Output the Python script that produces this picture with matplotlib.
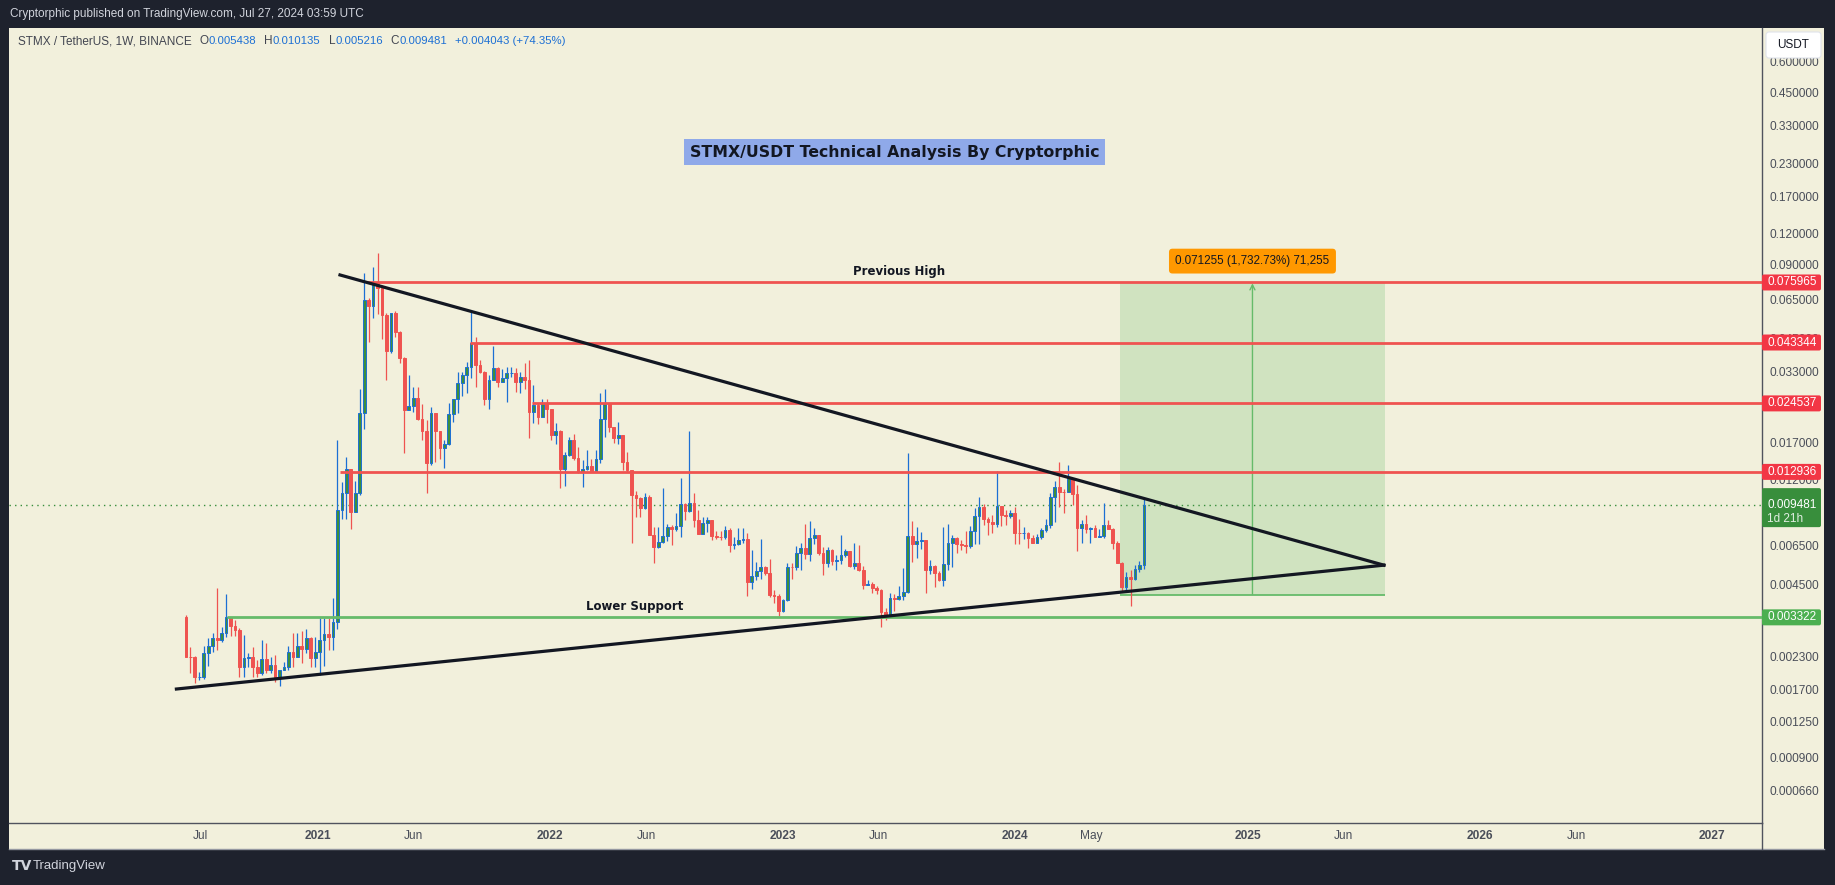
import numpy as np
import pandas as pd
import matplotlib
matplotlib.use('Agg')
import matplotlib.pyplot as plt
import matplotlib.dates as mdates
from matplotlib.patches import Rectangle, FancyBboxPatch
from matplotlib.lines import Line2D
from matplotlib.transforms import IdentityTransform

plt.rcParams['font.family'] = ['Liberation Sans', 'DejaVu Sans']

# ---- data (weekly STMX/USDT) ----
first_week = '2020-06-08'
first_open = 0.00334
closes = [
    0.00230, 0.00229, 0.00190, 0.00191, 0.00237, 0.00254, 0.00273, 0.00269, 0.00288, 0.00333,
    0.00306, 0.00295, 0.00209, 0.00228, 0.00229, 0.00209, 0.00198, 0.00225, 0.00203, 0.00212,
    0.00190, 0.00204, 0.00208, 0.00240, 0.00230, 0.00254, 0.00247, 0.00273, 0.00228, 0.00241,
    0.00269, 0.00284, 0.00276, 0.00319, 0.00906, 0.01066, 0.01326, 0.00892, 0.01066, 0.02252,
    0.0645, 0.0610, 0.0759, 0.0720, 0.0561, 0.0401, 0.0570, 0.0479, 0.0374, 0.0231,
    0.0240, 0.0257, 0.0212, 0.0190, 0.0141, 0.0225, 0.0190, 0.0161, 0.01676, 0.0223,
    0.0255, 0.0297, 0.0320, 0.0344, 0.0433, 0.0351, 0.0330, 0.0255, 0.0305, 0.0342,
    0.0300, 0.0312, 0.0325, 0.0326, 0.0300, 0.0315, 0.0305, 0.0227, 0.0241, 0.0217,
    0.0247, 0.0232, 0.0182, 0.0189, 0.0133, 0.0152, 0.0174, 0.0147, 0.01296, 0.0133,
    0.01367, 0.01308, 0.01458, 0.0212, 0.0247, 0.0196, 0.0178, 0.0182, 0.01423, 0.01317,
    0.01043, 0.01011, 0.00920, 0.01021, 0.00718, 0.00640, 0.00671, 0.00713, 0.00775, 0.00757,
    0.00782, 0.00958, 0.00898, 0.00970, 0.00825, 0.00724, 0.00800, 0.00825, 0.00711, 0.00706,
    0.00702, 0.00752, 0.00654, 0.00660, 0.00685, 0.00690, 0.00463, 0.00489, 0.00512, 0.00530,
    0.00502, 0.00409, 0.00406, 0.00354, 0.00391, 0.00533, 0.00530, 0.00605, 0.00634, 0.00601,
    0.00696, 0.00718, 0.00608, 0.00554, 0.00624, 0.00564, 0.00568, 0.00596, 0.00618, 0.00537,
    0.00554, 0.00517, 0.00450, 0.00454, 0.00438, 0.00429, 0.00350, 0.00340, 0.00397, 0.00395,
    0.00406, 0.00422, 0.00711, 0.00660, 0.00679, 0.00682, 0.00517, 0.00537, 0.00504, 0.00471,
    0.00547, 0.00664, 0.00696, 0.00660, 0.00654, 0.00648, 0.00745, 0.00857, 0.00934, 0.00833,
    0.00812, 0.00795, 0.00943, 0.00865, 0.00860, 0.00879, 0.00733, 0.00730, 0.00733, 0.00696,
    0.00668, 0.00702, 0.00752, 0.00787, 0.01021, 0.01121, 0.01076, 0.01070, 0.01218, 0.01053,
    0.00763, 0.00795, 0.00757, 0.00763, 0.00702, 0.00711, 0.00787, 0.00757, 0.00668, 0.00551,
    0.00442, 0.00485, 0.00475, 0.00521, 0.005438, 0.009481,
]
highs = [
    0.00340, 0.00252, 0.00232, 0.00200, 0.00254, 0.00273, 0.00286, 0.00436, 0.00304, 0.00413,
    0.00333, 0.00324, 0.00300, 0.00282, 0.00239, 0.00251, 0.00223, 0.00269, 0.00261, 0.00230,
    0.00234, 0.00204, 0.00219, 0.00254, 0.00288, 0.00288, 0.00293, 0.00297, 0.00277, 0.00277,
    0.00329, 0.00329, 0.00329, 0.00397, 0.0174, 0.01181, 0.01485, 0.01333, 0.01192, 0.0280,
    0.0833, 0.0655, 0.0876, 0.0999, 0.0743, 0.0570, 0.0573, 0.0584, 0.0484, 0.0377,
    0.0320, 0.0285, 0.0286, 0.0244, 0.0210, 0.0238, 0.0225, 0.0190, 0.0174, 0.02467,
    0.0255, 0.0330, 0.0330, 0.0362, 0.0584, 0.0457, 0.0368, 0.0332, 0.0320, 0.0420,
    0.0346, 0.0337, 0.0346, 0.0346, 0.0340, 0.0330, 0.0359, 0.0368, 0.0291, 0.0247,
    0.0255, 0.0255, 0.0232, 0.0204, 0.0191, 0.01565, 0.0179, 0.0184, 0.01634, 0.01446,
    0.0158, 0.01458, 0.0158, 0.0270, 0.0280, 0.0247, 0.0196, 0.0207, 0.0182, 0.01565,
    0.01317, 0.01086, 0.01026, 0.01066, 0.01043, 0.00775, 0.00775, 0.0111, 0.00795, 0.00787,
    0.00879, 0.01218, 0.00965, 0.0190, 0.0106, 0.00906, 0.00846, 0.00846, 0.00825, 0.00747,
    0.00747, 0.00780, 0.00763, 0.00706, 0.00763, 0.00763, 0.00729, 0.00624, 0.00556, 0.00691,
    0.00537, 0.00572, 0.00429, 0.00413, 0.00395, 0.00551, 0.00554, 0.00648, 0.00664, 0.00795,
    0.00817, 0.00763, 0.00718, 0.00643, 0.00643, 0.00628, 0.00596, 0.00718, 0.00628, 0.00618,
    0.00664, 0.00654, 0.00537, 0.00471, 0.00461, 0.00445, 0.00432, 0.00362, 0.00416, 0.00413,
    0.00445, 0.00528, 0.0155, 0.00817, 0.00775, 0.00740, 0.00685, 0.00568, 0.00542, 0.00512,
    0.00775, 0.00795, 0.00718, 0.00706, 0.00685, 0.00745, 0.00780, 0.00925, 0.01026, 0.00958,
    0.00846, 0.00865, 0.01305, 0.00941, 0.00906, 0.00906, 0.00929, 0.00831, 0.00775, 0.00737,
    0.00718, 0.00724, 0.00767, 0.00831, 0.01066, 0.01189, 0.01423, 0.01100, 0.01380, 0.01218,
    0.01145, 0.00825, 0.00865, 0.00775, 0.00787, 0.00757, 0.00970, 0.00825, 0.00767, 0.00681,
    0.00559, 0.00508, 0.00517, 0.00542, 0.00563, 0.010135,
]
lows = [
    0.00230, 0.00197, 0.00180, 0.00185, 0.00186, 0.00211, 0.00241, 0.00245, 0.00265, 0.00277,
    0.00279, 0.00279, 0.00190, 0.00190, 0.00209, 0.00191, 0.00190, 0.00194, 0.00197, 0.00198,
    0.00182, 0.00175, 0.00203, 0.00203, 0.00208, 0.00230, 0.00217, 0.00239, 0.00208, 0.00209,
    0.00194, 0.00211, 0.00245, 0.00245, 0.00297, 0.00831, 0.00831, 0.00757, 0.00900, 0.01043,
    0.01926, 0.0437, 0.0544, 0.0566, 0.0450, 0.0305, 0.0394, 0.0455, 0.0357, 0.0155,
    0.0231, 0.0227, 0.0210, 0.0175, 0.0106, 0.0138, 0.01423, 0.01458, 0.01345, 0.0166,
    0.0207, 0.0224, 0.0263, 0.0270, 0.0310, 0.0286, 0.0325, 0.0241, 0.0232, 0.0305,
    0.0286, 0.0300, 0.0249, 0.0315, 0.0274, 0.0271, 0.0280, 0.0178, 0.0205, 0.0202,
    0.0217, 0.0205, 0.0175, 0.0168, 0.0111, 0.01135, 0.0150, 0.01446, 0.01277, 0.0112,
    0.01317, 0.01296, 0.01308, 0.0141, 0.0179, 0.0188, 0.0170, 0.0168, 0.01317, 0.01296,
    0.00664, 0.00851, 0.00846, 0.00912, 0.00718, 0.00551, 0.00634, 0.00664, 0.00681, 0.00654,
    0.00747, 0.00706, 0.00825, 0.00892, 0.00775, 0.00724, 0.00724, 0.00740, 0.00685, 0.00690,
    0.00685, 0.00690, 0.00614, 0.00628, 0.00654, 0.00668, 0.00407, 0.00433, 0.00471, 0.00474,
    0.00493, 0.00401, 0.00379, 0.00337, 0.00350, 0.00388, 0.00475, 0.00517, 0.00517, 0.00574,
    0.00564, 0.00658, 0.00596, 0.00493, 0.00533, 0.00542, 0.00517, 0.00547, 0.00586, 0.00533,
    0.00521, 0.00513, 0.00433, 0.00450, 0.00416, 0.00413, 0.00303, 0.00324, 0.00338, 0.00354,
    0.00391, 0.00391, 0.00418, 0.00559, 0.00580, 0.00630, 0.00418, 0.00498, 0.00442, 0.00468,
    0.00447, 0.00517, 0.00533, 0.00605, 0.00624, 0.00605, 0.00634, 0.00660, 0.00660, 0.00787,
    0.00718, 0.00733, 0.00775, 0.00780, 0.00787, 0.00838, 0.00660, 0.00660, 0.00691, 0.00637,
    0.00666, 0.00664, 0.00691, 0.00740, 0.00767, 0.00812, 0.00934, 0.00879, 0.01076, 0.00950,
    0.00620, 0.00664, 0.00733, 0.00664, 0.00702, 0.00702, 0.00700, 0.00757, 0.00628, 0.00551,
    0.00422, 0.00425, 0.00371, 0.00471, 0.00508, 0.005216,
]

red_levels = [0.075965, 0.043344, 0.024537, 0.012936]
red_level_starts = ['2021-03-20', '2021-08-28', '2021-12-04', '2021-02-05']
support_level = 0.003322
support_start = '2020-08-12'
last_price = 0.009481

upper_line_dates = ['2021-02-05', '2025-08-03']
upper_line_prices = [0.0815, 0.00541]
lower_line_dates = ['2020-05-24', '2025-08-03']
lower_line_prices = [0.00170, 0.00541]

pos_start, pos_end = '2024-06-15', '2025-08-04'
pos_entry, pos_target = 0.004112, 0.075367
pos_label = '0.071255 (1,732.73%) 71,255'

ytick_vals = [0.6, 0.45, 0.33, 0.23, 0.17, 0.12, 0.09, 0.065, 0.045, 0.033, 0.025,
              0.017, 0.012, 0.0065, 0.0045, 0.0023, 0.0017, 0.00125, 0.0009, 0.00066]
xtick_dates = ['2020-07-01', '2021-01-01', '2021-06-01', '2022-01-01', '2022-06-01',
               '2023-01-01', '2023-06-01', '2024-01-01', '2024-05-01', '2025-01-01',
               '2025-06-01', '2026-01-01', '2026-06-01', '2027-01-01']
xtick_labels = ['Jul', '2021', 'Jun', '2022', 'Jun', '2023', 'Jun', '2024', 'May',
                '2025', 'Jun', '2026', 'Jun', '2027']

title = 'STMX/USDT Technical Analysis By Cryptorphic'
legend_name = 'STMX / TetherUS, 1W, BINANCE'
legend_fields = [('O', '0.005438'), ('H', '0.010135'), ('L', '0.005216'), ('C', '0.009481')]
legend_change = '+0.004043 (+74.35%)'

# ---- styling ----
W, H = 1835, 885
DARK = '#1e222d'
BG = '#f2f0dc'
BLUE = '#1c6fd4'
GREEN = '#3d8f3d'
RED = '#ef5350'
TAGRED = '#f23645'
AXCOL = '#50535e'
TXT = '#131722'
GREY = '#434651'

fig = plt.figure(figsize=(W / 100, H / 100), dpi=100, facecolor=DARK)
fig.patches.append(Rectangle((9 / W, (H - 849) / H), (1824 - 9) / W, (849 - 28) / H,
                             transform=fig.transFigure, fc=BG, ec='none', zorder=-5))
ax = fig.add_axes([9 / W, (H - 823) / H, (1762 - 9) / W, (823 - 28) / H])
ax.set_facecolor(BG)
ax.set_yscale('log')
ax.set_ylim(0.000486, 0.8195)
ax.set_xlim(mdates.datestr2num('2019-09-04'), mdates.datestr2num('2027-03-20'))
xmax = ax.get_xlim()[1]
for s in ['top', 'left']:
    ax.spines[s].set_visible(False)
for s in ['bottom', 'right']:
    ax.spines[s].set_color(AXCOL)
    ax.spines[s].set_linewidth(1)

# candles
dates = pd.date_range(first_week, periods=len(closes), freq='7D')
x = mdates.date2num(dates)
c = np.array(closes)
o = np.r_[first_open, c[:-1]]
h = np.maximum(np.array(highs), np.maximum(o, c))
l = np.minimum(np.array(lows), np.minimum(o, c))
up = c >= o
dn = ~up
bot = np.minimum(o, c)
ht = np.abs(c - o)
ax.vlines(x[up], l[up], h[up], color=BLUE, lw=0.9, zorder=3)
ax.vlines(x[dn], l[dn], h[dn], color=RED, lw=0.9, zorder=3)
ax.bar(x[up], ht[up], width=4.3, bottom=bot[up], color=GREEN, edgecolor=BLUE, lw=0.7, zorder=4)
ax.bar(x[dn], ht[dn], width=4.3, bottom=bot[dn], color=RED, edgecolor=RED, lw=0.7, zorder=4)

# long position box
x0, x1 = mdates.datestr2num(pos_start), mdates.datestr2num(pos_end)
ax.add_patch(Rectangle((x0, pos_entry), x1 - x0, pos_target - pos_entry,
                       fc='#4caf50', alpha=0.2, ec='none', zorder=1.5))
ax.hlines(pos_entry, x0, x1, color='#66bb6a', lw=1.3, zorder=2)
xm = (x0 + x1) / 2
ax.annotate('', xy=(xm, pos_target), xytext=(xm, pos_entry),
            arrowprops=dict(arrowstyle='->', color='#66bb6a', lw=1, shrinkA=0, shrinkB=0,
                            mutation_scale=9), zorder=2)
ax.annotate(pos_label, xy=(xm, pos_target), xytext=(0, 16), textcoords='offset points',
            ha='center', va='center', fontsize=8.4, color=TXT, zorder=8,
            bbox=dict(boxstyle='round,pad=0.55,rounding_size=0.3', fc='#ff9800', ec='none'))

# levels
ax.axhline(last_price, color='#388e3c', lw=1, ls=(0, (1, 3)), zorder=2)
for lv, st in zip(red_levels, red_level_starts):
    ax.hlines(lv, mdates.datestr2num(st), xmax, color=RED, lw=2, zorder=5)
ax.hlines(support_level, mdates.datestr2num(support_start), xmax, color='#66bb6a', lw=2, zorder=5)

# trendlines
ax.plot(mdates.datestr2num(upper_line_dates), upper_line_prices, color=TXT, lw=2.3, zorder=6)
ax.plot(mdates.datestr2num(lower_line_dates), lower_line_prices, color=TXT, lw=2.3, zorder=6)

# texts on chart
ax.text(0.505, 0.844, title, transform=ax.transAxes, ha='center', va='center',
        fontsize=11.3, fontweight='bold', family='DejaVu Sans', color=TXT,
        bbox=dict(boxstyle='square,pad=0.35', fc='#8fa9e9', ec='none'), zorder=8)
ax.annotate('Previous High', xy=(mdates.datestr2num('2023-07-04'), red_levels[0]),
            xytext=(0, 3), textcoords='offset points', ha='center', va='bottom',
            fontsize=8.5, fontweight='bold', family='DejaVu Sans', color=TXT, zorder=8)
ax.annotate('Lower Support', xy=(mdates.datestr2num('2022-05-14'), support_level),
            xytext=(0, 3), textcoords='offset points', ha='center', va='bottom',
            fontsize=8.5, fontweight='bold', family='DejaVu Sans', color=TXT, zorder=8)

# axes ticks
ax.yaxis.tick_right()
ax.set_yticks(ytick_vals)
ax.set_yticklabels([f'{v:.6f}' for v in ytick_vals])
ax.yaxis.set_minor_locator(matplotlib.ticker.NullLocator())
ax.tick_params(axis='y', length=0, pad=5.5, labelsize=8.6, labelcolor='#4a4e59')
ax.set_xticks(mdates.datestr2num(xtick_dates))
ax.set_xticklabels(xtick_labels)
ax.tick_params(axis='x', length=0, pad=5, labelsize=8.6, labelcolor='#4a4e59')
for lab in ax.get_xticklabels():
    if lab.get_text().isdigit():
        lab.set_fontweight('bold')

# frame lines for the time scale
fig.add_artist(Line2D([9 / W, 1824 / W], [(H - 849) / H] * 2, color='#9598a1', lw=1))
fig.add_artist(Line2D([1762 / W] * 2, [(H - 849) / H, (H - 823) / H], color=AXCOL, lw=1))


# price axis tags
def ypix(val):
    return ax.transData.transform((xmax, val))[1]


def tag(val, fc, lines, hgt=16, above=None):
    yp = ypix(val)
    top = yp + (hgt / 2 if above is None else above)
    fig.patches.append(FancyBboxPatch((1762, top - hgt), 59, hgt, transform=IdentityTransform(),
                                      boxstyle='round,pad=0,rounding_size=2', fc=fc, ec='none',
                                      zorder=10))
    for i, t in enumerate(lines):
        fig.text(1767 / W, (yp - i * 14) / H, t, ha='left', va='center', fontsize=8.5,
                 color='white', zorder=11, alpha=1 if i == 0 else 0.85)


for lv in red_levels:
    tag(lv, TAGRED, [f'{lv:.6f}'])
tag(last_price, '#388e3c', [f'{last_price:.6f}', '1d 21h'], hgt=39, above=17)
tag(support_level, '#4caf50', [f'{support_level:.6f}'])

fig.patches.append(FancyBboxPatch((1766, H - 58), 55, 26, transform=IdentityTransform(),
                                  boxstyle='round,pad=0,rounding_size=3', fc='white',
                                  ec='#e0e3eb', lw=0.8, zorder=10))
fig.text(1793.5 / W, (H - 45) / H, 'USDT', ha='center', va='center', fontsize=8.5,
         color=TXT, zorder=11)

# header
fig.text(10 / W, (H - 14) / H, 'Cryptorphic published on TradingView.com, Jul 27, 2024 03:59 UTC',
         ha='left', va='center', fontsize=8.5, color='#d1d4dc')

# legend line: place pieces one after another
renderer = fig.canvas.get_renderer()
legend_y = (H - 41) / H


def put(xpx, text, color, size):
    t = fig.text(xpx / W, legend_y, text, ha='left', va='center', fontsize=size, color=color)
    return t.get_window_extent(renderer).x1


xpos = put(18, legend_name, GREY, 8.5) + 8
for key, val in legend_fields:
    xpos = put(xpos, key, GREY, 8.5)
    xpos = put(xpos, val, BLUE, 8.2) + 8
put(xpos, legend_change, BLUE, 8.2)

# footer logo
fig.text(12 / W, (H - 866) / H, 'TV', ha='left', va='center', fontsize=10, fontweight='bold',
         color='#d1d4dc', family='DejaVu Sans')
fig.text(33 / W, (H - 866) / H, 'TradingView', ha='left', va='center', fontsize=9.5,
         color='#d1d4dc')

fig.savefig('out.png', dpi=100, facecolor=fig.get_facecolor())
